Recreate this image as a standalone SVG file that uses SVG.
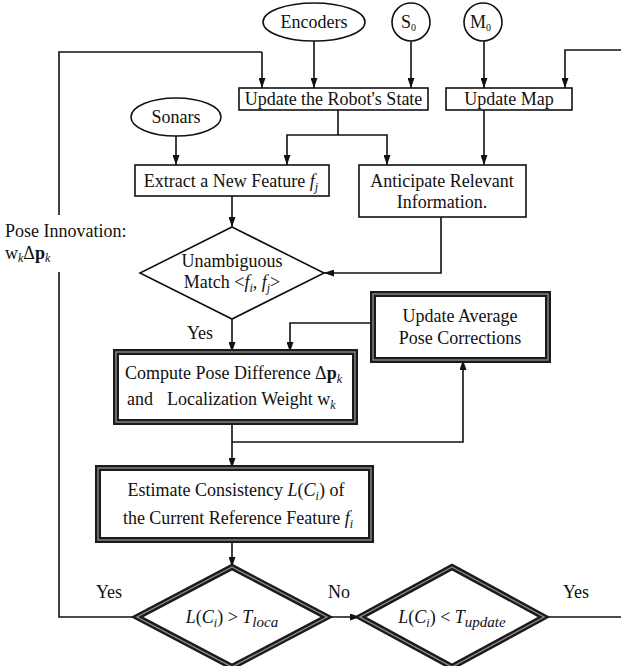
<svg xmlns="http://www.w3.org/2000/svg" width="621" height="666" viewBox="0 0 621 666">
<defs>
<marker id="ah" markerUnits="userSpaceOnUse" markerWidth="10" markerHeight="7" refX="10" refY="3.5" orient="auto">
<path d="M0,0 L10,3.5 L0,7 z" fill="#111"/>
</marker>
<style>
text{font-family:"Liberation Serif","Times New Roman",serif;font-size:18px;fill:#111}
.c{text-anchor:middle}
.i{font-style:italic}
.b{font-weight:bold}
.sub{font-size:12px}
.tiny{font-size:10px}
.box{fill:#fff;stroke:#111;stroke-width:1.6}
.thick{fill:#fff;stroke:#1a1a1a;stroke-width:6}
.core{fill:none;stroke:#8a8a8a;stroke-width:1.4}
.ln{fill:none;stroke:#111;stroke-width:1.6}
.ar{fill:none;stroke:#111;stroke-width:1.6;marker-end:url(#ah)}
</style>
</defs>
<rect width="621" height="666" fill="#fff"/>

<g id="connectors">
<polyline class="ln" points="59,272 59,617 137,617"/>
<polyline class="ln" points="59,215 59,52 262,52"/>
<line class="ar" x1="262" y1="52" x2="262" y2="88"/>
<line class="ar" x1="314" y1="41" x2="314" y2="88"/>
<line class="ar" x1="411" y1="41" x2="411" y2="88"/>
<line class="ar" x1="484" y1="41" x2="484" y2="88"/>
<polyline class="ar" points="621,50 565,50 565,88"/>
<line class="ar" x1="176" y1="136" x2="176" y2="165"/>
<polyline class="ln" points="338,110 338,135"/>
<polyline class="ar" points="338,135 287,135 287,165"/>
<polyline class="ar" points="338,135 387,135 387,165"/>
<line class="ar" x1="484" y1="110" x2="484" y2="165"/>
<line class="ar" x1="232" y1="196" x2="232" y2="227"/>
<polyline class="ar" points="441,217 441,273 324,273"/>
<line class="ar" x1="232" y1="319" x2="232" y2="352"/>
<polyline class="ar" points="373,323 290,323 290,352"/>
<line class="ar" x1="232" y1="422" x2="232" y2="468"/>
<polyline class="ar" points="232,442 463,442 463,360"/>
<line class="ar" x1="232" y1="540" x2="232" y2="567"/>
<line class="ar" x1="327" y1="617" x2="360" y2="617"/>
<line class="ln" x1="544" y1="617" x2="621" y2="617"/>
</g>

<g id="encoders">
<ellipse class="box" cx="314" cy="22" rx="51" ry="19"/>
<text class="c" x="314" y="28">Encoders</text>
</g>
<g id="s0">
<circle class="box" cx="411" cy="22" r="19"/>
<text x="401" y="28">S<tspan class="tiny" baseline-shift="-3">0</tspan></text>
</g>
<g id="m0">
<circle class="box" cx="483" cy="22" r="19"/>
<text x="470" y="28">M<tspan class="tiny" baseline-shift="-3">0</tspan></text>
</g>
<g id="update-state">
<rect class="box" x="239" y="88" width="189" height="22"/>
<text class="c" x="333.5" y="105">Update the Robot's State</text>
</g>
<g id="update-map">
<rect class="box" x="446" y="88" width="126" height="22"/>
<text class="c" x="509" y="105">Update Map</text>
</g>
<g id="sonars">
<ellipse class="box" cx="176" cy="117" rx="45" ry="19"/>
<text class="c" x="176" y="123">Sonars</text>
</g>
<g id="extract">
<rect class="box" x="135" y="165" width="194" height="31"/>
<text class="c" x="231" y="187">Extract a New Feature <tspan class="i">f</tspan><tspan class="i sub" baseline-shift="-4">j</tspan></text>
</g>
<g id="anticipate">
<rect class="box" x="359" y="165" width="167" height="52"/>
<text class="c" x="442" y="187">Anticipate Relevant</text>
<text class="c" x="442" y="208">Information.</text>
</g>
<g id="match">
<polygon class="box" points="232,227 324,273 232,319 140,273"/>
<text class="c" x="232" y="267">Unambiguous</text>
<text class="c" x="232" y="288">Match &lt;<tspan class="i">f</tspan><tspan class="i sub" baseline-shift="-4">i</tspan>, <tspan class="i">f</tspan><tspan class="i sub" baseline-shift="-4">j</tspan>&gt;</text>
</g>
<g id="pose-innovation-label">
<text x="5" y="237">Pose Innovation:</text>
<text x="5" y="259">w<tspan class="i sub" baseline-shift="-3">k</tspan>Δ<tspan class="b">p</tspan><tspan class="i sub" baseline-shift="-3">k</tspan></text>
</g>
<g id="yes-label-1">
<text class="c" x="200" y="339">Yes</text>
</g>
<g id="update-average">
<rect class="thick" x="373" y="294" width="175" height="66"/>
<rect class="core" x="373" y="294" width="175" height="66"/>
<text class="c" x="460" y="322">Update Average</text>
<text class="c" x="460" y="344">Pose Corrections</text>
</g>
<g id="compute">
<rect class="thick" x="116" y="352" width="239" height="70"/>
<rect class="core" x="116" y="352" width="239" height="70"/>
<text x="125" y="379">Compute Pose Difference Δ<tspan class="b">p</tspan><tspan class="i sub" baseline-shift="-4">k</tspan></text>
<text x="127" y="405">and<tspan x="167">Localization Weight w</tspan><tspan class="i sub" baseline-shift="-4">k</tspan></text>
</g>
<g id="estimate">
<rect class="thick" x="98" y="468" width="273" height="72"/>
<rect class="core" x="98" y="468" width="273" height="72"/>
<text class="c" x="236" y="496">Estimate Consistency <tspan class="i">L</tspan>(<tspan class="i">C</tspan><tspan class="i sub" baseline-shift="-4">i</tspan>) of</text>
<text class="c" x="238" y="524">the Current Reference Feature <tspan class="i">f</tspan><tspan class="i sub" baseline-shift="-4">i</tspan></text>
</g>
<g id="check-loca">
<polygon class="thick" points="232,567 327,617 232,667 137,617"/>
<polygon class="core" points="232,567 327,617 232,667 137,617"/>
<text class="c" x="232" y="623"><tspan class="i">L</tspan>(<tspan class="i">C</tspan><tspan class="i sub" baseline-shift="-4">i</tspan>) &gt; <tspan class="i">T</tspan><tspan class="i" font-size="15" baseline-shift="-4">loca</tspan></text>
</g>
<g id="check-update">
<polygon class="thick" points="452,567 544,617 452,667 360,617"/>
<polygon class="core" points="452,567 544,617 452,667 360,617"/>
<text class="c" x="452" y="623"><tspan class="i">L</tspan>(<tspan class="i">C</tspan><tspan class="i sub" baseline-shift="-4">i</tspan>) &lt; <tspan class="i">T</tspan><tspan class="i" font-size="15" baseline-shift="-4">update</tspan></text>
</g>
<g id="branch-labels">
<text class="c" x="109" y="598">Yes</text>
<text class="c" x="339" y="598">No</text>
<text class="c" x="576" y="598">Yes</text>
</g>
</svg>
